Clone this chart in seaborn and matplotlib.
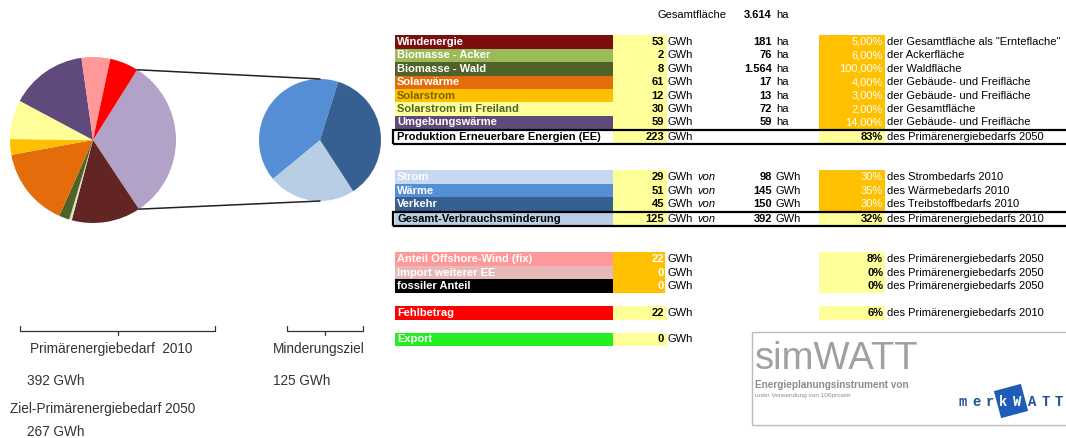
import numpy as np
import matplotlib
matplotlib.use("Agg")
import matplotlib.pyplot as plt
from matplotlib.patches import Rectangle
import seaborn as sns

# ---- data ----
ee_labels = ["Windenergie", "Biomasse - Acker", "Biomasse - Wald", "Solarwärme",
             "Solarstrom", "Solarstrom im Freiland", "Umgebungswärme"]
ee_gwh = [53, 2, 8, 61, 12, 30, 59]
ee_ha = [181, 76, 1564, 17, 13, 72, 59]
ee_pct = [5, 6, 100, 4, 3, 2, 14]
ee_desc = ['der Gesamtfläche als "Ernteflache"', "der Ackerfläche", "der Waldfläche",
           "der Gebäude- und Freifläche", "der Gebäude- und Freifläche",
           "der Gesamtfläche", "der Gebäude- und Freifläche"]
ee_total = 223
ee_total_pct = 83
gesamtflaeche = 3614

red_labels = ["Strom", "Wärme", "Verkehr"]
red_gwh = [29, 51, 45]
red_base = [98, 145, 150]
red_pct = [30, 35, 30]
red_desc = ["des Strombedarfs 2010", "des Wärmebedarfs 2010", "des Treibstoffbedarfs 2010"]
red_total = 125
red_total_base = 392
red_total_pct = 32

other_labels = ["Anteil Offshore-Wind (fix)", "Import weiterer EE", "fossiler Anteil"]
other_gwh = [22, 0, 0]
other_pct = [8, 0, 0]
fehlbetrag = 22
fehlbetrag_pct = 6
export = 0

bedarf_2010 = 392
ziel_2050 = 267

# colours
ee_colors = ["#7B0F0F", "#9BBB59", "#4F6228", "#E46C0A", "#FFC000", "#FFFF99", "#604A7B"]
ee_text = ["white", "white", "white", "white", "#7F6000", "#4F6228", "white"]
ee_pie_colors = ["#632523", "#D7E4BD", "#4F6228", "#E46C0A", "#FFC000", "#FFFF99", "#604A7B"]
red_colors = ["#C6D9F1", "#558ED5", "#376092"]
red_pie_colors = ["#B9CDE5", "#558ED5", "#376092"]
other_colors = ["#FF9999", "#E6B9B8", "#000000"]
minderung_color = "#B3A2C7"
offshore_color = "#FF9999"
fehl_color = "#FF0000"
export_color = "#22EE22"
yellow = "#FFFF99"
orange = "#FFC000"

sns.set_theme(style="white")
plt.rcParams['font.family'] = ['Liberation Sans', 'DejaVu Sans']

W, H = 1066, 438
fig = plt.figure(figsize=(W / 100, H / 100), dpi=100)
ax = fig.add_axes([0, 0, 1, 1])


def Y(y):
    return H - y


# ---- pies ----
pie_vals = [red_total] + ee_gwh + [other_gwh[0], fehlbetrag]
pie_cols = [minderung_color] + ee_pie_colors + [offshore_color, fehl_color]
start = 57.8
c1, r1 = (93, Y(140)), 83
c2, r2 = (320, Y(140)), 61
ax.pie(pie_vals, colors=pie_cols, startangle=start, counterclock=False,
       center=c1, radius=r1, wedgeprops=dict(linewidth=0))
ax.pie(red_gwh, colors=red_pie_colors, startangle=-57, counterclock=False,
       center=c2, radius=r2, wedgeprops=dict(linewidth=0))

a_top = np.deg2rad(start)
a_bot = np.deg2rad(start - 360 * red_total / sum(pie_vals))
ax.plot([c1[0] + r1 * np.cos(a_top), c2[0]], [c1[1] + r1 * np.sin(a_top), c2[1] + r2],
        color="#222222", lw=1.1)
ax.plot([c1[0] + r1 * np.cos(a_bot), c2[0]], [c1[1] + r1 * np.sin(a_bot), c2[1] - r2],
        color="#222222", lw=1.1)

# ---- brackets and texts under pies ----
for x0, x1 in [(20, 215), (287, 363)]:
    ax.plot([x0, x0, x1, x1], [Y(326), Y(331), Y(331), Y(326)], color="#333333", lw=0.9)
    xm = (x0 + x1) / 2
    ax.plot([xm, xm], [Y(331), Y(335)], color="#333333", lw=0.9)

fs_b = 9.8
tc = "#333333"
ax.text(30, Y(349), "Primärenergiebedarf  2010", fontsize=fs_b, va="center", color=tc)
ax.text(27, Y(381), f"{bedarf_2010} GWh", fontsize=fs_b, va="center", color=tc)
ax.text(10, Y(409), "Ziel-Primärenergiebedarf 2050", fontsize=fs_b, va="center", color=tc)
ax.text(27, Y(432), f"{ziel_2050} GWh", fontsize=fs_b, va="center", color=tc)
ax.text(273, Y(349), "Minderungsziel", fontsize=fs_b, va="center", color=tc)
ax.text(273, Y(381), f"{red_total} GWh", fontsize=fs_b, va="center", color=tc)

# ---- table ----
fs = 8
rh = 13.4
LX0, LX1 = 395, 613
VX1 = 667
PX0, PX1 = 819, 885


def cell(x0, x1, yc, color):
    ax.add_patch(Rectangle((x0, Y(yc) - rh / 2), x1 - x0, rh, facecolor=color, lw=0))


def txt(x, yc, s, ha="left", bold=False, color="black", style="normal"):
    ax.text(x, Y(yc), s, ha=ha, va="center", fontsize=fs, color=color,
            fontweight="bold" if bold else "normal", fontstyle=style)


def de_num(v):
    return f"{v:,}".replace(",", ".")


def de_pct(v):
    return f"{v:.2f}".replace(".", ",") + "%"


txt(657, 15, "Gesamtfläche")
txt(772, 15, de_num(gesamtflaeche), ha="right", bold=True)
txt(776, 15, "ha")

ee_y = [42 + i * rh for i in range(len(ee_labels))]
for i, yc in enumerate(ee_y):
    cell(LX0, LX1, yc, ee_colors[i])
    cell(LX1, VX1, yc, yellow)
    cell(PX0, PX1, yc, orange)
    txt(397, yc, ee_labels[i], bold=True, color=ee_text[i])
    txt(664, yc, str(ee_gwh[i]), ha="right", bold=True)
    txt(668, yc, "GWh")
    txt(772, yc, de_num(ee_ha[i]), ha="right", bold=True)
    txt(776, yc, "ha")
    txt(883, yc, de_pct(ee_pct[i]), ha="right", color="white")
    txt(887, yc, ee_desc[i])

yt = 137
cell(LX1, VX1, yt, yellow)
cell(PX0, PX1, yt, yellow)
ax.add_patch(Rectangle((393, Y(yt) - 7), 680, 14, fill=False, edgecolor="black", lw=1.6))
txt(397, yt, "Produktion Erneuerbare Energien (EE)", bold=True)
txt(664, yt, str(ee_total), ha="right", bold=True)
txt(668, yt, "GWh")
txt(883, yt, f"{ee_total_pct}%", ha="right", bold=True)
txt(887, yt, "des Primärenergiebedarfs 2050")

red_y = [177, 190.5, 204]
for i, yc in enumerate(red_y):
    cell(LX0, LX1, yc, red_colors[i])
    cell(LX1, VX1, yc, yellow)
    cell(PX0, PX1, yc, orange)
    txt(397, yc, red_labels[i], bold=True, color="white")
    txt(664, yc, str(red_gwh[i]), ha="right", bold=True)
    txt(668, yc, "GWh")
    txt(697, yc, "von", style="italic")
    txt(772, yc, str(red_base[i]), ha="right", bold=True)
    txt(776, yc, "GWh")
    txt(883, yc, f"{red_pct[i]}%", ha="right", color="white")
    txt(887, yc, red_desc[i])

yt = 218.5
cell(LX0, LX1, yt, "#B9CDE5")
cell(LX1, VX1, yt, yellow)
cell(PX0, PX1, yt, yellow)
ax.add_patch(Rectangle((393, Y(yt) - 7), 680, 14, fill=False, edgecolor="black", lw=1.6))
txt(397, yt, "Gesamt-Verbrauchsminderung", bold=True)
txt(664, yt, str(red_total), ha="right", bold=True)
txt(668, yt, "GWh")
txt(697, yt, "von", style="italic")
txt(772, yt, str(red_total_base), ha="right", bold=True)
txt(776, yt, "GWh")
txt(883, yt, f"{red_total_pct}%", ha="right", bold=True)
txt(887, yt, "des Primärenergiebedarfs 2010")

oth_y = [259, 272.5, 286]
for i, yc in enumerate(oth_y):
    cell(LX0, LX1, yc, other_colors[i])
    cell(LX1, VX1 - 2, yc, orange)
    cell(PX0, PX1, yc, yellow)
    txt(397, yc, other_labels[i], bold=True, color="white")
    txt(664, yc, str(other_gwh[i]), ha="right", bold=True, color="white")
    txt(668, yc, "GWh")
    txt(883, yc, f"{other_pct[i]}%", ha="right", bold=True)
    txt(887, yc, "des Primärenergiebedarfs 2050")

yc = 313
cell(LX0, LX1, yc, fehl_color)
cell(LX1, VX1, yc, yellow)
cell(PX0, PX1, yc, yellow)
txt(397, yc, "Fehlbetrag", bold=True, color="white")
txt(664, yc, str(fehlbetrag), ha="right", bold=True)
txt(668, yc, "GWh")
txt(883, yc, f"{fehlbetrag_pct}%", ha="right", bold=True)
txt(887, yc, "des Primärenergiebedarfs 2010")

yc = 339.5
cell(LX0, LX1, yc, export_color)
cell(LX1, VX1, yc, yellow)
txt(397, yc, "Export", bold=True, color="white")
txt(664, yc, str(export), ha="right", bold=True)
txt(668, yc, "GWh")

# ---- logo box ----
ax.add_patch(Rectangle((752, Y(425)), 330, 93, fill=False, edgecolor="#BBBBBB", lw=1))
ax.text(755, Y(359), "simWATT", fontsize=27.5, color="#A0A0A0", va="center")
ax.text(755, Y(385), "Energieplanungsinstrument von", fontsize=7.2, fontweight="bold",
        color="#8C8C8C", va="center")
ax.text(755, Y(396), "unter Verwendung von 100prosim", fontsize=4.6, color="#8C8C8C", va="center")
ax.add_patch(Rectangle((997, Y(415)), 28, 28, angle=15, rotation_point="center",
                       facecolor="#1F5CB8", lw=0))
for ch, x, col in [("m", 963, "#1F4E9A"), ("e", 977, "#1F4E9A"), ("r", 990, "#1F4E9A"),
                   ("k", 1003, "white"), ("W", 1017, "white"),
                   ("A", 1032, "#1F4E9A"), ("T", 1046, "#1F4E9A"), ("T", 1059, "#1F4E9A")]:
    ax.text(x, Y(402), ch, fontsize=10, color=col, ha="center", va="center",
            family="Liberation Mono", fontweight="bold")

ax.set_xlim(0, W)
ax.set_ylim(0, H)
ax.set_aspect("auto")
ax.axis("off")

fig.savefig("out.png", dpi=100, facecolor="white")
